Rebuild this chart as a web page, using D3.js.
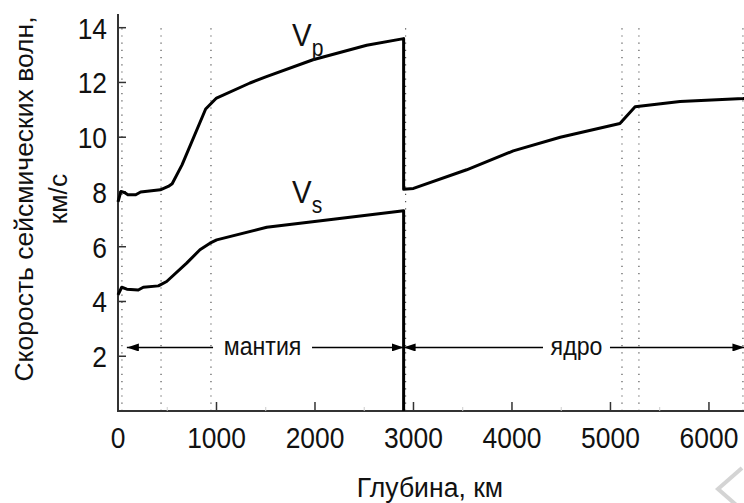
<!DOCTYPE html>
<html>
<head>
<meta charset="utf-8">
<script src="https://cdn.jsdelivr.net/npm/d3@7"></script>
<style>
  body { margin: 0; background: #fff; }
  text { font-family: "Liberation Sans", Arial, sans-serif; fill: #111; }
</style>
</head>
<body>
<div id="chart"></div>
<script>
// глубина (км) / скорость (км/с)
const vpDepth = [0, 30, 70, 100, 180, 230, 430, 510, 550, 650, 890, 1000, 1340, 1500, 1980, 2525, 2900, 2900, 3000, 3540, 4013, 4490, 5096, 5250, 5706, 6348, 6371];
const vpSpeed = [7.64, 8.02, 7.97, 7.9, 7.9, 8.0, 8.08, 8.2, 8.3, 8.99, 11.03, 11.43, 11.98, 12.2, 12.83, 13.36, 13.6, 8.1, 8.13, 8.81, 9.5, 10.0, 10.5, 11.11, 11.3, 11.41, 11.42];
const vsDepth = [0, 38, 90, 206, 257, 410, 494, 697, 832, 934, 1002, 1510, 2186, 2900, 2900];
const vsSpeed = [4.24, 4.52, 4.45, 4.42, 4.52, 4.57, 4.73, 5.4, 5.89, 6.13, 6.25, 6.71, 7.0, 7.31, 0];
const boundaries = [40, 437, 944, 2920, 5117, 5289, 6345];
const xTicks = [0, 1000, 2000, 3000, 4000, 5000, 6000];
const xMinor = [500, 1500, 2500, 3500, 4500, 5500];
const yTicks = [2, 4, 6, 8, 10, 12, 14];
const zones = [
  { name: "мантия", from: 90, to: 2900, gapFrom: 965, gapTo: 1970 },
  { name: "ядро", from: 2900, to: 6360, gapFrom: 4315, gapTo: 4995 }
];

const w = 744, h = 503;
const svg = d3.select("#chart").append("svg").attr("width", w).attr("height", h);

const x = d3.scaleLinear().domain([0, 6371]).range([118, 745.5]);
const y = d3.scaleLinear().domain([0, 14.5]).range([411, 14]);

// текст чуть сжат по горизонтали, как на исходнике
function label(px, py, str, fs, sx, anchor) {
  return svg.append("text")
    .attr("transform", `translate(${px},${py}) scale(${sx},1)`)
    .attr("text-anchor", anchor || "middle")
    .attr("font-size", fs)
    .text(str);
}

// пунктирные границы
svg.selectAll(".bnd").data(boundaries).enter().append("line")
  .attr("x1", d => x(d)).attr("x2", d => x(d))
  .attr("y1", y(0)).attr("y2", y(14.2))
  .attr("stroke", "#555").attr("stroke-width", 1.2)
  .attr("stroke-dasharray", "1.2,6");

// оси
svg.append("line").attr("x1", x(0)).attr("x2", x(0)).attr("y1", y(0) + 1).attr("y2", y(14.5))
  .attr("stroke", "#333").attr("stroke-width", 2);
svg.append("line").attr("x1", x(0) - 1).attr("x2", w).attr("y1", y(0)).attr("y2", y(0))
  .attr("stroke", "#333").attr("stroke-width", 2);

svg.selectAll(".xt").data(xTicks).enter().append("line")
  .attr("x1", d => x(d)).attr("x2", d => x(d)).attr("y1", y(0)).attr("y2", y(0) - 9)
  .attr("stroke", "#333").attr("stroke-width", 1.5);
svg.selectAll(".xm").data(xMinor).enter().append("line")
  .attr("x1", d => x(d)).attr("x2", d => x(d)).attr("y1", y(0)).attr("y2", y(0) - 4)
  .attr("stroke", "#ccc").attr("stroke-width", 1);
svg.selectAll(".yt").data(yTicks).enter().append("line")
  .attr("x1", x(0)).attr("x2", x(0) + 8).attr("y1", d => y(d)).attr("y2", d => y(d))
  .attr("stroke", "#333").attr("stroke-width", 1.5);

xTicks.forEach(d => label(x(d), 448, d, 30, 0.88));
yTicks.forEach(d => label(107, y(d) + 11, d, 30, 0.88, "end"));

label(430, 497, "Глубина, км", 28, 0.95);

const yl = svg.append("text").attr("transform", "translate(33,199) rotate(-90)")
  .attr("text-anchor", "middle").attr("font-size", 26.5);
yl.append("tspan").attr("x", 0).attr("dy", 0).text("Скорость сейсмических волн,");
yl.append("tspan").attr("x", 0).attr("dy", 34).text("км/с");

// кривые
const line = d3.line().x(d => x(d[0])).y(d => y(d[1]));
svg.append("path").datum(d3.zip(vpDepth, vpSpeed)).attr("d", line)
  .attr("fill", "none").attr("stroke", "#000").attr("stroke-width", 3).attr("stroke-linejoin", "round");
svg.append("path").datum(d3.zip(vsDepth, vsSpeed)).attr("d", line)
  .attr("fill", "none").attr("stroke", "#000").attr("stroke-width", 3).attr("stroke-linejoin", "round");

// подписи V_p, V_s
function vLabel(px, py, sub) {
  const t = svg.append("text").attr("transform", `translate(${px},${py}) scale(0.92,1)`).attr("font-size", 32);
  t.append("tspan").text("V");
  t.append("tspan").attr("dy", 10).attr("font-size", 23).text(sub);
}
vLabel(292, 46, "p");
vLabel(292, 203, "s");

// стрелки мантия / ядро
const defs = svg.append("defs");
defs.append("marker").attr("id", "ah").attr("viewBox", "0 0 12 8")
  .attr("refX", 12).attr("refY", 4).attr("markerWidth", 12).attr("markerHeight", 8)
  .attr("markerUnits", "userSpaceOnUse").attr("orient", "auto-start-reverse")
  .append("path").attr("d", "M0,0 L12,4 L0,8 Z").attr("fill", "#000");

const ay = y(2.32);
zones.forEach(z => {
  svg.append("line").attr("x1", x(z.from)).attr("x2", x(z.gapFrom)).attr("y1", ay).attr("y2", ay)
    .attr("stroke", "#000").attr("stroke-width", 1.5).attr("marker-start", "url(#ah)");
  svg.append("line").attr("x1", x(z.gapTo)).attr("x2", x(z.to)).attr("y1", ay).attr("y2", ay)
    .attr("stroke", "#000").attr("stroke-width", 1.5).attr("marker-end", "url(#ah)");
  label((x(z.gapFrom) + x(z.gapTo)) / 2, ay + 8, z.name, 26, 0.89);
});

// серый уголок внизу справа
svg.append("path").attr("d", "M742,468 L718,489 L742,510")
  .attr("fill", "none").attr("stroke", "#d4d4d4").attr("stroke-width", 4);
</script>
</body>
</html>
